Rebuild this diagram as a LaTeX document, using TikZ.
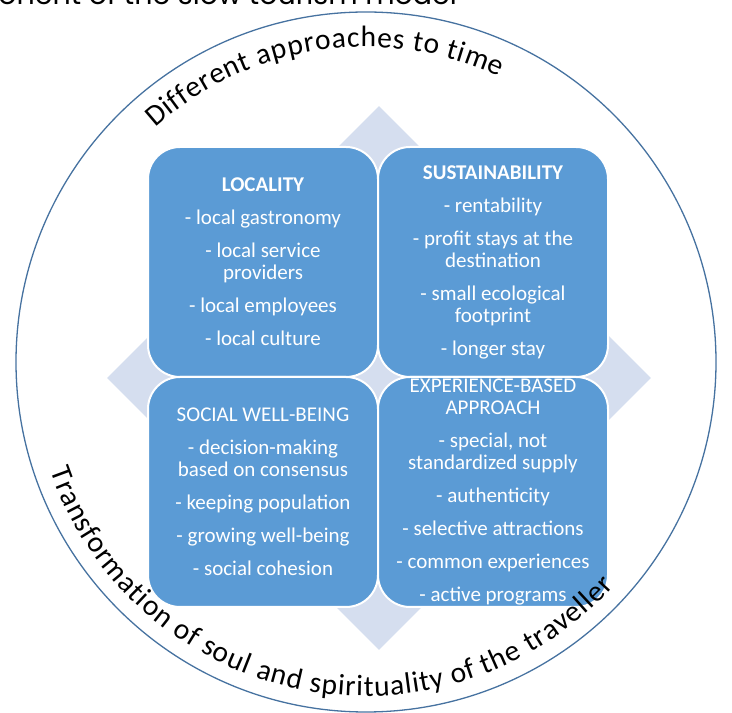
\documentclass[tikz,border=0pt]{standalone}
\usepackage{fontspec}
\setmainfont{Carlito}
\newfontfamily\captfont{Poppins}
\usetikzlibrary{positioning, calc, shapes.geometric, decorations.text}
\definecolor{boxblue}{RGB}{91,155,213}
\definecolor{diamondgray}{RGB}{213,222,239}
\definecolor{ringblue}{RGB}{70,114,160}
\newcommand{\arcfont}{\fontsize{29.5}{30}\selectfont}

\begin{document}
\begin{tikzpicture}[x=1pt, y=1pt, thick, node distance=230pt]

		% Define block styles
		\tikzstyle{quad} = [rectangle, rounded corners=32pt, draw=white, line width=2pt, fill=boxblue, minimum width=230pt, minimum height=230pt]
		\tikzstyle{itemtext} = [text=white, align=center, font=\fontsize{21}{22}\selectfont]
		\tikzstyle{ringtext} = [decorate, decoration={text along path, text align=fit to path}]

		\useasboundingbox (0,0) rectangle (732,713);

		% Caption line, cut off by the page
		\begin{scope}
			\clip (0,0) rectangle (732,713);
			\node[anchor=base west, inner sep=0pt, font=\captfont\fontsize{28.5}{28.5}\selectfont] (caption) at (-2,708.5) {onent of the slow tourism model};
		\end{scope}

		% Nodes
		\node[circle, draw=ringblue, line width=1.3pt, minimum size=700pt, inner sep=0pt] (ring) at (366,351) {};
		\node[diamond, fill=diamondgray, minimum width=544pt, minimum height=544pt, inner sep=0pt] (back) at (379,335) {};
		\node[quad] (loc) at (263,451) {};
		\node[quad, right of=loc] (sus) {};
		\node[quad, below of=loc] (soc) {};
		\node[quad, right of=soc] (exp) {};

		% Box texts
		\node[itemtext] (loctext) at (loc) {\textbf{LOCALITY}\\[11pt] - local gastronomy\\[11pt] - local service\\providers\\[11pt] - local employees\\[11pt] - local culture};
		\node[itemtext] (sustext) at (sus) {\textbf{SUSTAINABILITY}\\[11pt] - rentability\\[11pt] - profit stays at the\\destination\\[11pt] - small ecological\\footprint\\[11pt] - longer stay};
		\node[itemtext] (soctext) at (soc) {SOCIAL WELL-BEING\\[11pt] - decision-making\\based on consensus\\[11pt] - keeping population\\[11pt] - growing well-being\\[11pt] - social cohesion};
		\node[itemtext] (exptext) at (exp) {EXPERIENCE-BASED\\APPROACH\\[11pt] - special, not\\standardized supply\\[11pt] - authenticity\\[11pt] - selective attractions\\[11pt] - common experiences\\[11pt] - active programs};

		% Labels
		\path[ringtext, decoration={text={|\arcfont|Different approaches to time}}] ($(ring.center)+(132:315pt)$) arc (132:65:315pt);
		\path[ringtext, decoration={text={|\arcfont|Transformation of soul and spirituality of the traveller}}] ($(ring.center)+(199:334pt)$) arc (199:318:334pt);

	\end{tikzpicture}
\end{document}
